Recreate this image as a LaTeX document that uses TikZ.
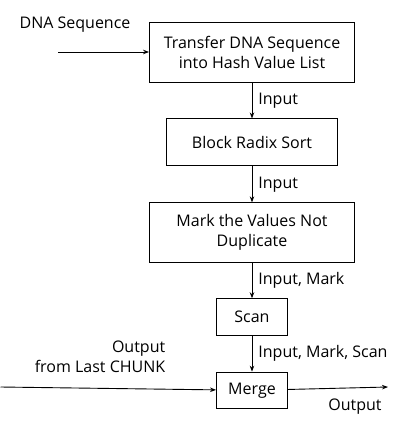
\documentclass[tikz,border=0pt]{standalone}
\usepackage{fontspec}
\setmainfont{Open Sans}
\usepackage{tikz}
\usetikzlibrary{positioning,arrows.meta}

\begin{document}
\begin{tikzpicture}
      [ node distance=36pt, >={Stealth[length=6pt,width=4.5pt]},
        font=\fontsize{16pt}{20pt}\selectfont, line width=0.9pt,
        box/.style={draw, align=center, inner sep=0pt},
        wide/.style={box, minimum width=205pt, minimum height=60pt},
        mid/.style={box, minimum width=171pt, minimum height=47pt},
        small/.style={box, minimum width=71pt, minimum height=36.5pt},
        lbl/.style={right, inner sep=0pt, xshift=6pt}
      ]
      \useasboundingbox (0,0) rectangle (412pt,-435pt);
      \node[wide]   (hash)  at (252pt,-52pt)  {Transfer DNA Sequence\\into Hash Value List};
      \node[mid]    (sort)  [below=of hash]   {Block Radix Sort};
      \node[wide]   (mark)  [below=of sort]   {Mark the Values Not\\Duplicate};
      \node[small]  (scan)  [below=35pt of mark] {Scan};
      \node[small]  (merge) [below=of scan]   {Merge};

      % inputs and outputs
      \coordinate (dnain)  at (58pt,-52pt);
      \coordinate (lastin) at (0.5pt,-387pt);
      \coordinate (out)    at (388pt,-387pt);
      \node (dnatxt)  at (75pt,-25pt)            {DNA Sequence};
      \node (lasttxt) [align=right, anchor=east] at (169pt,-357pt) {Output\\from Last CHUNK};
      \node (outtxt)  at (355pt,-407pt)          {Output};

      \draw[->] (dnain) -- (hash);
      \draw[->] (hash)  -- node[lbl] {Input} (sort);
      \draw[->] (sort)  -- node[lbl] {Input} (mark);
      \draw[->] (mark)  -- node[lbl] {Input, Mark} (scan);
      \draw[->] (scan)  -- node[lbl] {Input, Mark, Scan} (merge);
      \draw[->] (lastin) -- (merge);
      \draw[->] (merge) -- (out);
    \end{tikzpicture}
\end{document}
